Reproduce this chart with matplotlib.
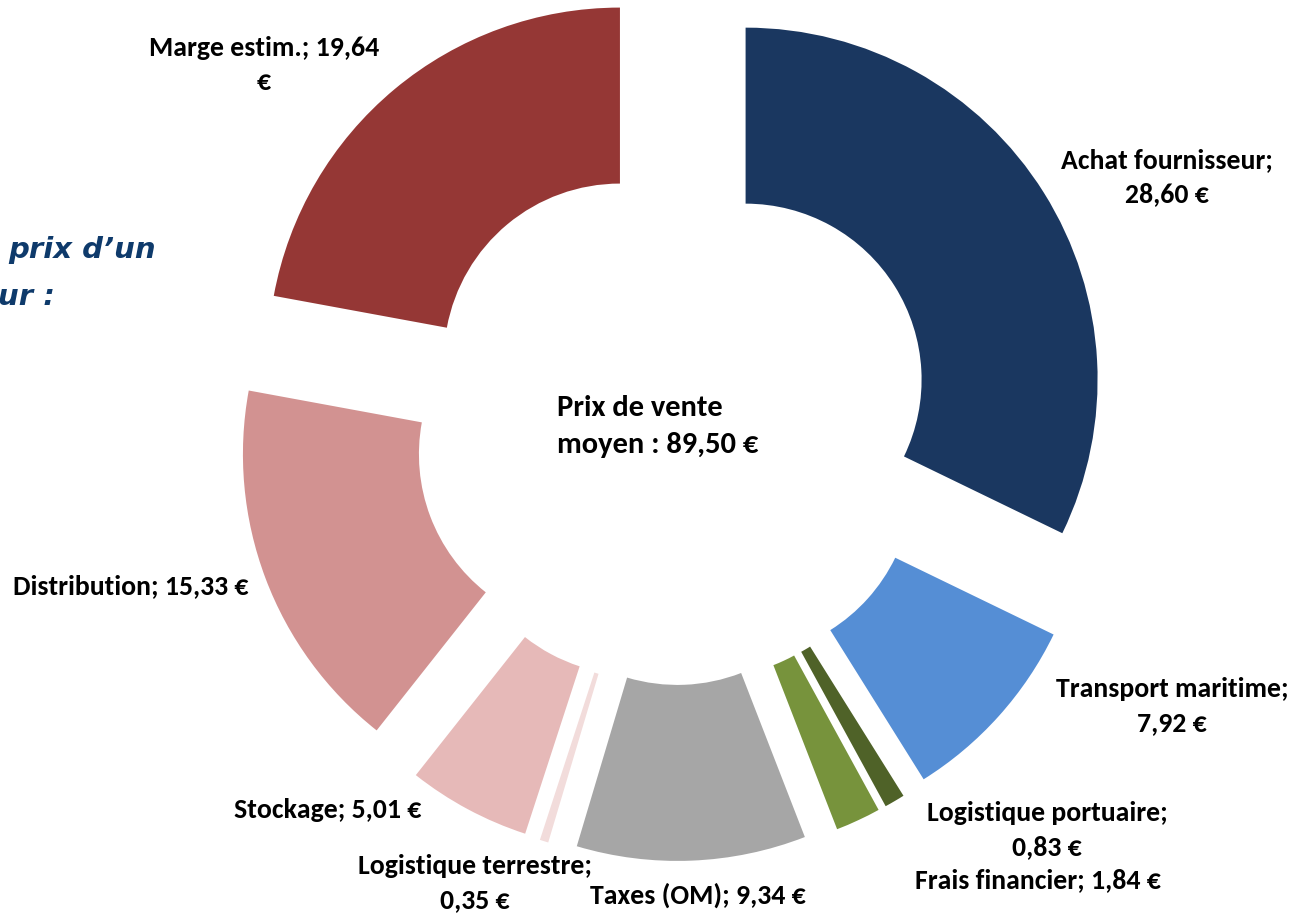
import matplotlib
matplotlib.use("Agg")
import matplotlib.pyplot as plt
from matplotlib import font_manager as fm

# ---- data (clockwise from 12 o'clock)
categories = [
    "Achat fournisseur", "Transport maritime", "Logistique portuaire",
    "Frais financier", "Taxes (OM)", "Logistique terrestre",
    "Stockage", "Distribution", "Marge estim.",
]
values = [28.60, 7.92, 0.83, 1.84, 9.34, 0.35, 5.01, 15.33, 19.64]
colors = ["#1A3760", "#558ED5", "#4F6228", "#77933C", "#A6A6A6",
          "#F2DCDB", "#E6B9B8", "#D29291", "#953735"]
prix_moyen = "89,50"

W, H = 1301, 914
R_PX = 352.0           # outer radius in pixels
CX, CY = 674.0, 424.5  # donut centre in pixels (from top-left)


def fr(v):
    return f"{v:.2f}".replace(".", ",")


# label layout: (lines, x_px, first line y_px)
label_layout = [
    ([f"{categories[0]};", f"{fr(values[0])} €"], 1167, 160),
    ([f"{categories[1]};", f"{fr(values[1])} €"], 1172, 689),
    ([f"{categories[2]};", f"{fr(values[2])} €"], 1047, 813),
    ([f"{categories[3]}; {fr(values[3])} €"], 1038, 880),
    ([f"{categories[4]}; {fr(values[4])} €"], 698, 895),
    ([f"{categories[5]};", f"{fr(values[5])} €"], 475, 866),
    ([f"{categories[6]}; {fr(values[6])} €"], 328, 810),
    ([f"{categories[7]}; {fr(values[7])} €"], 131, 586),
    ([f"{categories[8]}; {fr(values[8])}", "€"], 264, 48),
]

# Calibri look-alike if present, else Open Sans
installed = {f.name for f in fm.fontManager.ttflist}
if "Carlito" in installed:
    LABEL_FONT, LABEL_SIZE, CENTER_SIZE = ["Carlito", "DejaVu Sans"], 20, 22
else:
    LABEL_FONT, LABEL_SIZE, CENTER_SIZE = ["Open Sans", "DejaVu Sans"], 17, 19

fig = plt.figure(figsize=(W / 100, H / 100), dpi=100)
ax = fig.add_axes([0, 0, 1, 1])

ax.pie(values, colors=colors, startangle=90, counterclock=False,
       radius=1.0, explode=[0.24] * len(values),
       wedgeprops=dict(width=0.5, linewidth=0))
ax.set_xlim(-CX / R_PX, (W - CX) / R_PX)
ax.set_ylim(-(H - CY) / R_PX, CY / R_PX)
ax.set_aspect("equal", adjustable="box")
ax.axis("off")


def px_text(x, y, s, **kw):
    fig.text(x / W, 1 - y / H, s, **kw)


LINE = 34
for lines, x, y in label_layout:
    for i, s in enumerate(lines):
        px_text(x, y + i * LINE, s, ha="center", va="center",
                fontsize=LABEL_SIZE, fontweight="bold", color="black",
                family=LABEL_FONT)

# centre text
px_text(557, 408, "Prix de vente", ha="left", va="center",
        fontsize=CENTER_SIZE, fontweight="bold", color="black", family=LABEL_FONT)
px_text(557, 445, f"moyen : {prix_moyen} €", ha="left", va="center",
        fontsize=CENTER_SIZE, fontweight="bold", color="black", family=LABEL_FONT)

# title fragment cut off at the left edge
px_text(8, 250, "prix d’un", ha="left", va="center", fontsize=21,
        fontweight="bold", fontstyle="italic", color="#0E3A6B",
        family=["DejaVu Sans"])
px_text(-2, 297, "ur :", ha="left", va="center", fontsize=21,
        fontweight="bold", fontstyle="italic", color="#0E3A6B",
        family=["DejaVu Sans"])

fig.savefig("out.png", dpi=100)
